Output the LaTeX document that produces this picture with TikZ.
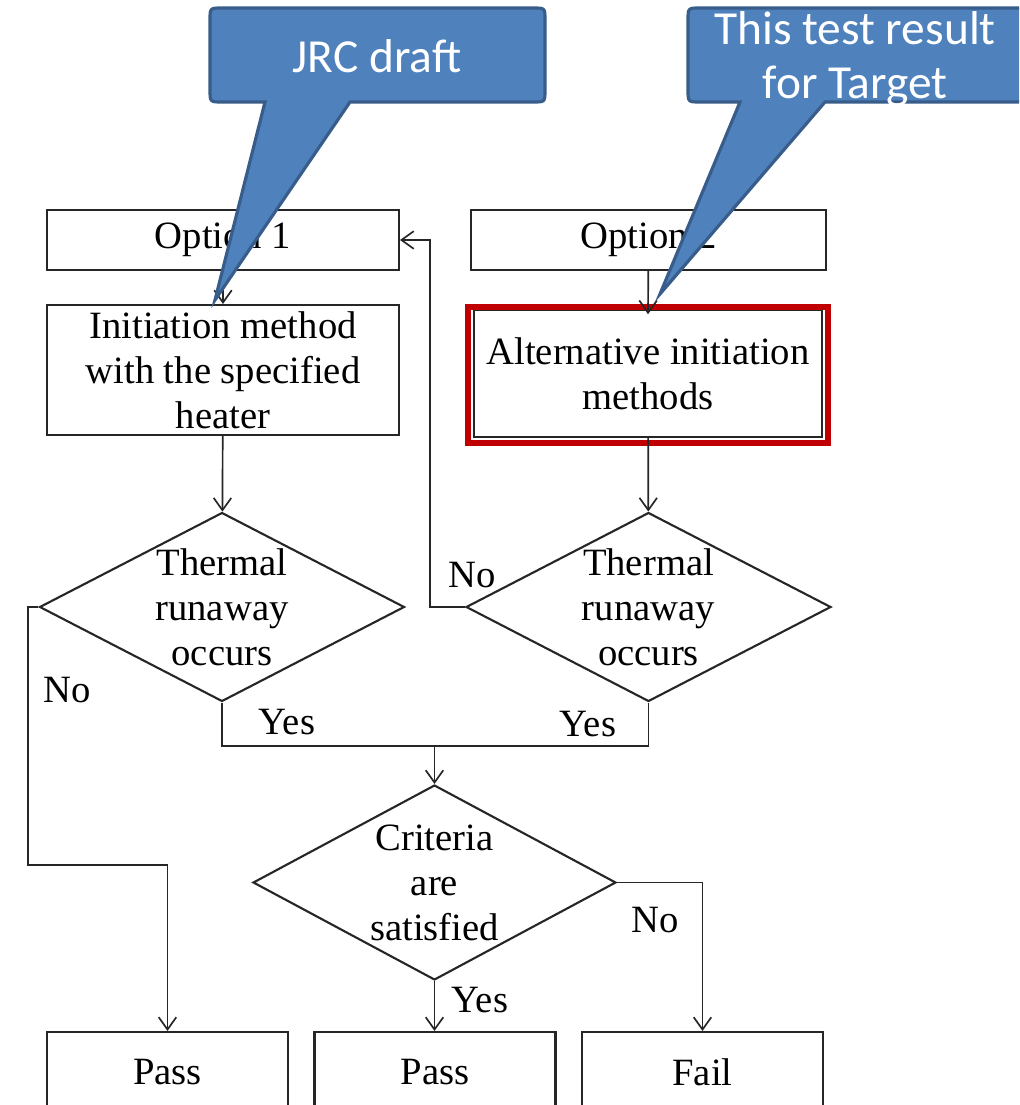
\documentclass[tikz,border=0pt]{standalone}
\usepackage{fontspec}
\usepackage{xcolor}
\usepackage{tikz}
\usetikzlibrary{arrows.meta,shapes.geometric}
\newfontfamily\flowfont{Liberation Serif}
\newfontfamily\calloutfont{Carlito}
\definecolor{calloutblue}{HTML}{4F81BD}
\definecolor{calloutedge}{HTML}{385D8A}
\definecolor{markred}{HTML}{C00000}
\tikzset{
  box/.style={draw=black!85, line width=1.2pt, minimum width=7.04cm, minimum height=1.2cm,
    align=center, inner sep=0pt, font=\flowfont\fontsize{22}{25.6}\selectfont},
  decision/.style={diamond, draw=black!85, line width=1.2pt, minimum width=7.3cm,
    minimum height=3.78cm, inner sep=0pt},
  lbl/.style={font=\flowfont\fontsize{22}{25.6}\selectfont, align=center},
  arr/.style={-{Straight Barb[length=7pt,width=10pt]}},
  link/.style={draw=black!85, line width=0.95pt},
  callout/.style={fill=calloutblue, draw=calloutedge, line width=1.8pt},
  callouttext/.style={text=white, align=center, font=\calloutfont\fontsize{27}{31}\selectfont},
}

\begin{document}
\begin{tikzpicture}[x=0.02cm, y=-0.02cm]
 \clip (0,0) rectangle (1019,1105);
 \fill[white] (0,0) rectangle (1019,1105);

%	boxes
 \node[box] (opt1) at (223,240) {Option 1};
 \node[box, minimum width=7.1cm] (opt2) at (648.5,240) {Option 2};
 \node[box, minimum height=2.6cm] (init) at (223,370) {Initiation method\\with the specified\\heater};
 \node[box, minimum width=6.96cm, minimum height=2.54cm] (alt) at (648,373.5) {Alternative initiation\\methods};
 \draw[markred, line width=3.4pt] ([shift={(-5,-2)}]alt.north west) rectangle ([shift={(5,5)}]alt.south east);

%	decisions
 \node[decision, label={[lbl]center:Thermal\\runaway\\occurs}] (run1) at (222,607) {};
 \node[decision, label={[lbl]center:Thermal\\runaway\\occurs}] (run2) at (648.5,607) {};
 \node[decision, minimum width=7.26cm, minimum height=3.9cm,
   label={[lbl]center:Criteria\\are\\satisfied}] (crit) at (434.5,882.5) {};

%	results
 \node[box, minimum width=4.82cm, minimum height=1.6cm] (pass1) at (167.5,1072) {Pass};
 \node[box, minimum width=4.82cm, minimum height=1.6cm] (pass2) at (435,1072) {Pass};
 \node[box, minimum width=4.82cm, minimum height=1.6cm] (fail) at (702.5,1072) {Fail};

 \coordinate (merge) at (434.5,746);
 \coordinate (nobend) at (28,865);

%	connectors
 \draw[link, arr] (opt1) -- (init);
 \draw[link, arr] (opt2) -- ([yshift=-3]alt.north);
 \draw[link, arr] (init) -- (run1);
 \draw[link, arr] (alt) -- (run2);
 \draw[link, arr] (run2.west) -- ++(-35,0) |- (opt1.east);
 \draw[link, arr] (run1.west) -| (nobend) -| (pass1.north);
 \draw[link] (run1.south) |- (merge) -| (run2.south);
 \draw[link, arr] (merge) -- (crit.north);
 \draw[link, arr] (crit.south) -- (crit.south |- pass2.north);
 \draw[link, arr] (crit.east) -| (fail.north);

 \node[lbl] (no1) at (67,690) {No};
 \node[lbl] (no2) at (472,575) {No};
 \node[lbl] (yes1) at (287,722) {Yes};
 \node[lbl] (yes2) at (588,724) {Yes};
 \node[lbl] (yes3) at (480,1000) {Yes};
 \node[lbl] (no3) at (655,920) {No};

%	callouts
 \draw[callout] (222,8) -- (533,8) .. controls (545,8) .. (545,20) -- (545,90)
   .. controls (545,102) .. (533,102) -- (350,102) -- (215,300) -- (265,102) -- (222,102)
   .. controls (210,102) .. (210,90) -- (210,20) .. controls (210,8) .. (222,8) -- cycle;
 \node[callouttext] (jrc) at (377,56) {JRC draft};
 \draw[callout] (700,8) -- (1035,8) -- (1035,102) -- (825,102) -- (660,294) -- (740,102)
   -- (700,102) .. controls (688,102) .. (688,90) -- (688,20) .. controls (688,8) .. (700,8) -- cycle;
 \node[callouttext] (target) at (855,59) {This test result\\for Target};
\end{tikzpicture}
\end{document}
